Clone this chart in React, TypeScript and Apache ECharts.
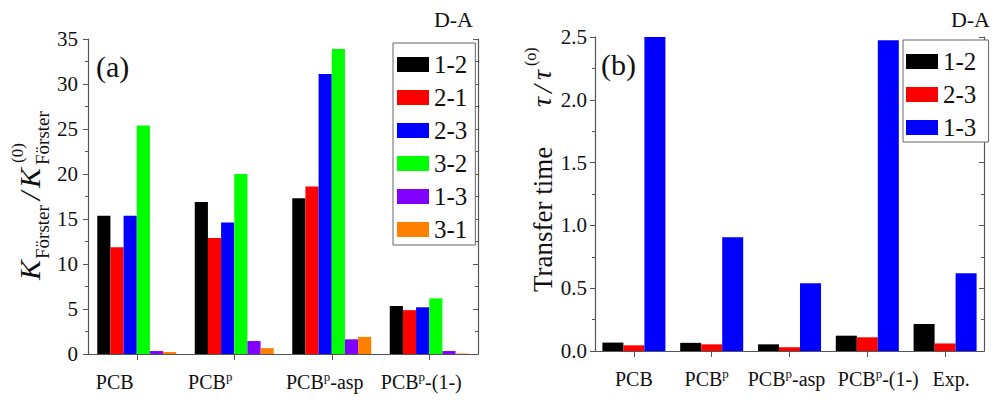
import React, { useEffect, useRef } from "react";
import * as echarts from "echarts";

// ---- data ----
const categoriesA = ["PCB", "PCB^p", "PCB^p-asp", "PCB^p-(1-)"];
const seriesNamesA = ["1-2", "2-1", "2-3", "3-2", "1-3", "3-1"];
const a12 = [15.35, 16.9, 17.3, 5.33];
const a21 = [11.85, 12.9, 18.6, 4.87];
const a23 = [15.35, 14.6, 31.1, 5.19];
const a32 = [25.4, 20.0, 33.9, 6.18];
const a13 = [0.33, 1.44, 1.63, 0.33];
const a31 = [0.22, 0.65, 1.9, 0.05];

const categoriesB = ["PCB", "PCB^p", "PCB^p-asp", "PCB^p-(1-)", "Exp."];
const seriesNamesB = ["1-2", "2-3", "1-3"];
const b12 = [0.067, 0.065, 0.053, 0.122, 0.215];
const b23 = [0.045, 0.053, 0.03, 0.109, 0.06];
const b13 = [2.5, 0.905, 0.54, 2.475, 0.62];

const yTicksA = { min: 0, max: 35, interval: 5 };
const yTicksB = { min: 0, max: 2.5, interval: 0.5 };

// ---- styles ----
const colorsA = ["#000000", "#ff0000", "#0000ff", "#00ff00", "#8000ff", "#ff8000"];
const colorsB = ["#000000", "#ff0000", "#0000ff"];
const labelShiftA = [-22, -24, -7, -8];
const labelShiftB = [0, -5, -3, 11, 6];
const SERIF = "Liberation Serif";
const AXIS_COLOR = "#555";
const TEXT_COLOR = "#111";

function makeLabel(shifts: number[], prefix: string) {
  const rich: any = {
    n: { fontSize: 20, fontFamily: SERIF, color: TEXT_COLOR, lineHeight: 24 },
    sup: { fontSize: 13, fontFamily: SERIF, color: TEXT_COLOR, verticalAlign: "top", lineHeight: 14 },
  };
  shifts.forEach((s, i) => {
    rich[prefix + i] = { width: Math.abs(s) * 2, fontSize: 20, fontFamily: SERIF, lineHeight: 24 };
  });
  return {
    margin: 16,
    interval: 0,
    hideOverlap: false,
    fontFamily: SERIF,
    rich,
    formatter: (v: string, i: number) => {
      const parts = v.split("^p");
      let s =
        parts.length > 1
          ? `{n|${parts[0]}}{sup|p}` + (parts[1] ? `{n|${parts[1]}}` : "")
          : `{n|${v}}`;
      const sh = shifts[i] || 0;
      if (sh < 0) s = s + `{${prefix}${i}| }`;
      else if (sh > 0) s = `{${prefix}${i}| }` + s;
      return s;
    },
  };
}

function text(x: number, y: number, t: string, size: number, extra: any = {}) {
  return {
    type: "text",
    x,
    y,
    style: {
      text: t,
      fontSize: size,
      fontFamily: SERIF,
      fill: TEXT_COLOR,
      align: "left",
      textAlign: "left",
      verticalAlign: "middle",
      textVerticalAlign: "middle",
      ...extra,
    },
  };
}

export default function App() {
  const ref = useRef<HTMLDivElement>(null);
  useEffect(() => {
    if (!ref.current) return;
    const chart = echarts.init(ref.current, undefined, { renderer: "svg" });
    const gridA = { left: 88, right: 994 - 478, top: 39, bottom: 400 - 354 };
    const gridB = { left: 595, right: 10, top: 37, bottom: 400 - 351 };

    const axisLine = { show: true, lineStyle: { color: AXIS_COLOR, width: 1.2 } };
    const bottomX = (cats: string[], gi: number, shifts: number[], prefix: string) => ({
      type: "category",
      gridIndex: gi,
      position: "bottom",
      data: cats,
      axisLine,
      axisTick: { show: true, alignWithLabel: true, inside: false, length: 6, interval: 0, lineStyle: { color: AXIS_COLOR } },
      axisLabel: makeLabel(shifts, prefix),
      splitLine: { show: false },
    });
    const topX = (cats: string[], gi: number) => ({
      type: "category",
      gridIndex: gi,
      position: "top",
      data: cats,
      axisLine,
      axisTick: { show: true, alignWithLabel: true, inside: true, length: 5, interval: 0, lineStyle: { color: AXIS_COLOR } },
      axisLabel: { show: false, interval: 0 },
      splitLine: { show: false },
    });
    const leftY = (ticks: any, gi: number, margin: number) => ({
      type: "value",
      gridIndex: gi,
      position: "left",
      ...ticks,
      axisLine,
      axisTick: { show: true, inside: false, length: 5, lineStyle: { color: AXIS_COLOR } },
      minorTick: { show: true, splitNumber: 2, length: 3, lineStyle: { color: AXIS_COLOR } },
      axisLabel: {
        margin,
        fontSize: 21,
        fontFamily: SERIF,
        color: TEXT_COLOR,
        formatter: (v: number) => (ticks.interval < 1 ? v.toFixed(1) : String(v)),
      },
      splitLine: { show: false },
    });
    const rightY = (ticks: any, gi: number) => ({
      type: "value",
      gridIndex: gi,
      position: "right",
      ...ticks,
      axisLine,
      axisTick: { show: true, inside: true, length: 5, lineStyle: { color: AXIS_COLOR } },
      minorTick: { show: true, splitNumber: 2, length: 3, lineStyle: { color: AXIS_COLOR } },
      axisLabel: { show: false },
      splitLine: { show: false },
    });

    const dataA = [a12, a21, a23, a32, a13, a31];
    const dataB = [b12, b23, b13];

    const seriesA = seriesNamesA.map((name, i) => ({
      name,
      type: "bar",
      xAxisIndex: 0,
      yAxisIndex: 0,
      data: dataA[i],
      barGap: "0%",
      barCategoryGap: "19%",
      itemStyle: { color: colorsA[i] },
    }));
    const seriesB = seriesNamesB.map((name, i) => ({
      name: name + " ",
      type: "bar",
      xAxisIndex: 2,
      yAxisIndex: 2,
      data: dataB[i],
      barGap: "0%",
      barCategoryGap: "19%",
      itemStyle: { color: colorsB[i] },
    }));

    const legendBase = {
      orient: "vertical",
      icon: "rect",
      itemWidth: 32,
      itemHeight: 15,
      itemGap: 8,
      borderColor: "#666",
      borderWidth: 1,
      textStyle: { fontSize: 25, fontFamily: SERIF, color: TEXT_COLOR, lineHeight: 24 },
      backgroundColor: "#fff",
    };

    const option: any = {
      animation: false,
      backgroundColor: "#fff",
      textStyle: { fontFamily: SERIF },
      grid: [gridA, gridB],
      xAxis: [
        bottomX(categoriesA, 0, labelShiftA, "sa"),
        topX(categoriesA, 0),
        bottomX(categoriesB, 1, labelShiftB, "sb"),
        topX(categoriesB, 1),
      ],
      yAxis: [leftY(yTicksA, 0, 10), rightY(yTicksA, 0), leftY(yTicksB, 1, 8), rightY(yTicksB, 1)],
      legend: [
        { ...legendBase, data: seriesNamesA, left: 393, top: 43, padding: [9, 8, 3, 4] },
        { ...legendBase, data: seriesNamesB.map((n) => n + " "), left: 903, top: 40, padding: [9, 6, 2, 3] },
      ],
      series: [...seriesA, ...seriesB],
      graphic: [
        text(473, 19, "D-A", 22, { align: "right", textAlign: "right" }),
        text(990, 19, "D-A", 22, { align: "right", textAlign: "right" }),
        text(96, 66, "(a)", 30),
        text(601, 64, "(b)", 30),
        {
          type: "group",
          x: 0,
          y: 280,
          rotation: Math.PI / 2,
          children: [
            text(0, 29, "K", 30, { fontStyle: "italic" }),
            text(21, 42, "Förster", 19),
            text(80, 29, "/", 30, { fontStyle: "italic" }),
            text(92, 29, "K", 30, { fontStyle: "italic" }),
            text(115, 42, "Förster", 19),
            text(117, 17, "(0)", 17),
          ],
        },
        {
          type: "group",
          x: 0,
          y: 292,
          rotation: Math.PI / 2,
          children: [
            text(0, 543, "Transfer time", 27),
            text(185, 541, "τ", 28, { fontStyle: "italic" }),
            text(199, 542, "/", 28, { fontStyle: "italic" }),
            text(212, 541, "τ", 28, { fontStyle: "italic" }),
            text(226, 530, "(o)", 16),
          ],
        },
      ],
    };
    chart.setOption(option);
    return () => chart.dispose();
  }, []);
  return (
    <div
      ref={ref}
      style={{ position: "fixed", left: 0, top: 0, width: 994, height: 400, background: "#fff" }}
    />
  );
}
